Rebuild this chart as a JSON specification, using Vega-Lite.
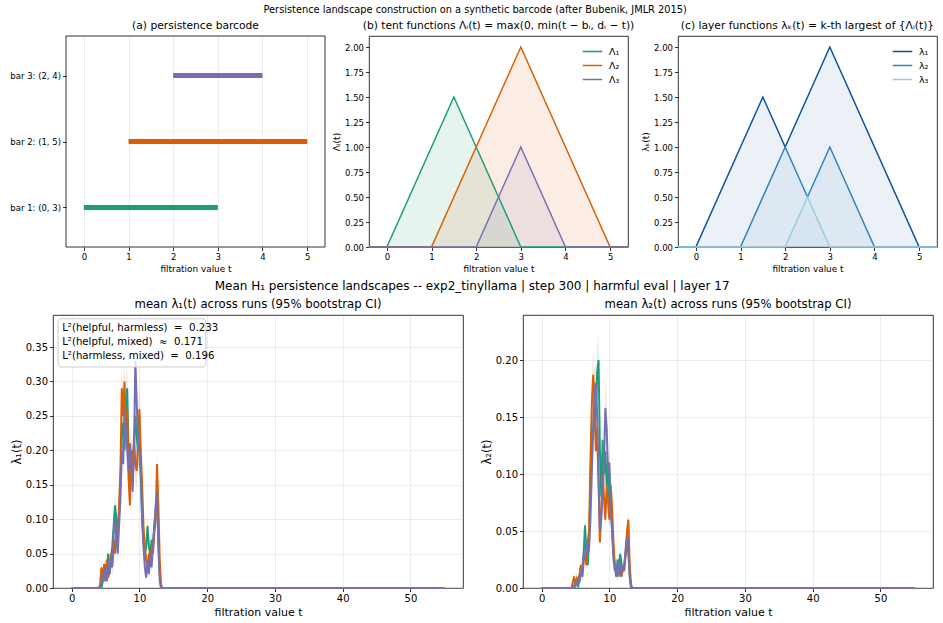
{
  "$schema": "https://vega.github.io/schema/vega-lite/v6.json",
  "padding": {"left": 9, "top": 5, "right": 5, "bottom": 5},
  "title": {"text": "Persistence landscape construction on a synthetic barcode (after Bubenik, JMLR 2015)", "fontSize": 9.8, "offset": 5, "anchor": "middle"},
  "datasets": {
    "barcode": [
      {"bar": "bar 1: (0, 3)", "pos": 1, "b": 0, "d": 3},
      {"bar": "bar 2: (1, 5)", "pos": 2, "b": 1, "d": 5},
      {"bar": "bar 3: (2, 4)", "pos": 3, "b": 2, "d": 4}
    ],
    "frameA": [{"b": -0.4, "d": 5.4, "pos": 0.4, "pos2": 3.6}],
    "tents": [
      {"f": "Λ₁", "t": -0.4, "v": 0}, {"f": "Λ₁", "t": 0, "v": 0}, {"f": "Λ₁", "t": 1.5, "v": 1.5}, {"f": "Λ₁", "t": 3, "v": 0}, {"f": "Λ₁", "t": 5.4, "v": 0},
      {"f": "Λ₂", "t": -0.4, "v": 0}, {"f": "Λ₂", "t": 1, "v": 0}, {"f": "Λ₂", "t": 3, "v": 2}, {"f": "Λ₂", "t": 5, "v": 0}, {"f": "Λ₂", "t": 5.4, "v": 0},
      {"f": "Λ₃", "t": -0.4, "v": 0}, {"f": "Λ₃", "t": 2, "v": 0}, {"f": "Λ₃", "t": 3, "v": 1}, {"f": "Λ₃", "t": 4, "v": 0}, {"f": "Λ₃", "t": 5.4, "v": 0}
    ],
    "layers": [
      {"k": "λ₁", "t": -0.4, "v": 0}, {"k": "λ₁", "t": 0, "v": 0}, {"k": "λ₁", "t": 1.5, "v": 1.5}, {"k": "λ₁", "t": 2, "v": 1}, {"k": "λ₁", "t": 3, "v": 2}, {"k": "λ₁", "t": 5, "v": 0}, {"k": "λ₁", "t": 5.4, "v": 0},
      {"k": "λ₂", "t": -0.4, "v": 0}, {"k": "λ₂", "t": 1, "v": 0}, {"k": "λ₂", "t": 2, "v": 1}, {"k": "λ₂", "t": 2.5, "v": 0.5}, {"k": "λ₂", "t": 3, "v": 1}, {"k": "λ₂", "t": 4, "v": 0}, {"k": "λ₂", "t": 5.4, "v": 0},
      {"k": "λ₃", "t": -0.4, "v": 0}, {"k": "λ₃", "t": 2, "v": 0}, {"k": "λ₃", "t": 2.5, "v": 0.5}, {"k": "λ₃", "t": 3, "v": 0}, {"k": "λ₃", "t": 5.4, "v": 0}
    ],
    "box1": [{"t": -2.0, "t2": 19.8, "y": 0.321, "y2": 0.391}],
    "notes1": [
      {"t": -1.4, "y": 0.3775, "label": "L²(helpful, harmless) \u00a0=\u00a0 0.233"},
      {"t": -1.4, "y": 0.3572, "label": "L²(helpful, mixed) \u00a0≈\u00a0 0.171"},
      {"t": -1.4, "y": 0.3369, "label": "L²(harmless, mixed) \u00a0=\u00a0 0.196"}
    ],
    "lam1": [
      {"s": "helpful", "t": 0, "y": 0, "lo": 0, "hi": 0},
      {"s": "helpful", "t": 4.4, "y": 0, "lo": 0, "hi": 0},
      {"s": "helpful", "t": 4.6, "y": 0.01, "lo": 0.004, "hi": 0.016},
      {"s": "helpful", "t": 4.8, "y": 0.02, "lo": 0.014, "hi": 0.026},
      {"s": "helpful", "t": 5.0, "y": 0.01, "lo": 0.004, "hi": 0.016},
      {"s": "helpful", "t": 5.2, "y": 0.03, "lo": 0.018, "hi": 0.042},
      {"s": "helpful", "t": 5.4, "y": 0.05, "lo": 0.038, "hi": 0.062},
      {"s": "helpful", "t": 5.6, "y": 0.02, "lo": 0.014, "hi": 0.026},
      {"s": "helpful", "t": 5.8, "y": 0.04, "lo": 0.028, "hi": 0.052},
      {"s": "helpful", "t": 6.0, "y": 0.06, "lo": 0.048, "hi": 0.072},
      {"s": "helpful", "t": 6.2, "y": 0.09, "lo": 0.072, "hi": 0.108},
      {"s": "helpful", "t": 6.4, "y": 0.12, "lo": 0.102, "hi": 0.138},
      {"s": "helpful", "t": 6.6, "y": 0.10, "lo": 0.082, "hi": 0.118},
      {"s": "helpful", "t": 6.8, "y": 0.08, "lo": 0.062, "hi": 0.098},
      {"s": "helpful", "t": 7.0, "y": 0.11, "lo": 0.092, "hi": 0.128},
      {"s": "helpful", "t": 7.2, "y": 0.15, "lo": 0.125, "hi": 0.175},
      {"s": "helpful", "t": 7.4, "y": 0.22, "lo": 0.185, "hi": 0.255},
      {"s": "helpful", "t": 7.6, "y": 0.24, "lo": 0.205, "hi": 0.275},
      {"s": "helpful", "t": 7.8, "y": 0.20, "lo": 0.175, "hi": 0.225},
      {"s": "helpful", "t": 8.0, "y": 0.27, "lo": 0.235, "hi": 0.305},
      {"s": "helpful", "t": 8.2, "y": 0.29, "lo": 0.255, "hi": 0.325},
      {"s": "helpful", "t": 8.4, "y": 0.20, "lo": 0.175, "hi": 0.225},
      {"s": "helpful", "t": 8.6, "y": 0.16, "lo": 0.135, "hi": 0.185},
      {"s": "helpful", "t": 8.8, "y": 0.19, "lo": 0.165, "hi": 0.215},
      {"s": "helpful", "t": 9.0, "y": 0.15, "lo": 0.125, "hi": 0.175},
      {"s": "helpful", "t": 9.2, "y": 0.21, "lo": 0.175, "hi": 0.245},
      {"s": "helpful", "t": 9.4, "y": 0.25, "lo": 0.215, "hi": 0.285},
      {"s": "helpful", "t": 9.6, "y": 0.22, "lo": 0.185, "hi": 0.255},
      {"s": "helpful", "t": 9.8, "y": 0.20, "lo": 0.175, "hi": 0.225},
      {"s": "helpful", "t": 10.0, "y": 0.21, "lo": 0.175, "hi": 0.245},
      {"s": "helpful", "t": 10.2, "y": 0.16, "lo": 0.135, "hi": 0.185},
      {"s": "helpful", "t": 10.4, "y": 0.10, "lo": 0.082, "hi": 0.118},
      {"s": "helpful", "t": 10.6, "y": 0.07, "lo": 0.052, "hi": 0.088},
      {"s": "helpful", "t": 10.8, "y": 0.05, "lo": 0.038, "hi": 0.062},
      {"s": "helpful", "t": 11.0, "y": 0.06, "lo": 0.048, "hi": 0.072},
      {"s": "helpful", "t": 11.2, "y": 0.09, "lo": 0.072, "hi": 0.108},
      {"s": "helpful", "t": 11.4, "y": 0.06, "lo": 0.048, "hi": 0.072},
      {"s": "helpful", "t": 11.6, "y": 0.05, "lo": 0.038, "hi": 0.062},
      {"s": "helpful", "t": 11.8, "y": 0.07, "lo": 0.052, "hi": 0.088},
      {"s": "helpful", "t": 12.0, "y": 0.06, "lo": 0.048, "hi": 0.072},
      {"s": "helpful", "t": 12.2, "y": 0.09, "lo": 0.072, "hi": 0.108},
      {"s": "helpful", "t": 12.4, "y": 0.11, "lo": 0.092, "hi": 0.128},
      {"s": "helpful", "t": 12.6, "y": 0.13, "lo": 0.105, "hi": 0.155},
      {"s": "helpful", "t": 12.8, "y": 0.07, "lo": 0.052, "hi": 0.088},
      {"s": "helpful", "t": 13.0, "y": 0.02, "lo": 0.014, "hi": 0.026},
      {"s": "helpful", "t": 13.2, "y": 0, "lo": 0, "hi": 0},
      {"s": "helpful", "t": 55, "y": 0, "lo": 0, "hi": 0},

      {"s": "harmless", "t": 0, "y": 0, "lo": 0, "hi": 0},
      {"s": "harmless", "t": 4.0, "y": 0, "lo": 0, "hi": 0},
      {"s": "harmless", "t": 4.2, "y": 0.005, "lo": 0, "hi": 0.011},
      {"s": "harmless", "t": 4.4, "y": 0.03, "lo": 0.018, "hi": 0.042},
      {"s": "harmless", "t": 4.6, "y": 0.01, "lo": 0.004, "hi": 0.016},
      {"s": "harmless", "t": 4.8, "y": 0.035, "lo": 0.023, "hi": 0.047},
      {"s": "harmless", "t": 5.0, "y": 0.02, "lo": 0.014, "hi": 0.026},
      {"s": "harmless", "t": 5.2, "y": 0.04, "lo": 0.028, "hi": 0.052},
      {"s": "harmless", "t": 5.4, "y": 0.015, "lo": 0.009, "hi": 0.021},
      {"s": "harmless", "t": 5.6, "y": 0.03, "lo": 0.018, "hi": 0.042},
      {"s": "harmless", "t": 5.8, "y": 0.05, "lo": 0.038, "hi": 0.062},
      {"s": "harmless", "t": 6.0, "y": 0.035, "lo": 0.023, "hi": 0.047},
      {"s": "harmless", "t": 6.2, "y": 0.07, "lo": 0.052, "hi": 0.088},
      {"s": "harmless", "t": 6.4, "y": 0.05, "lo": 0.038, "hi": 0.062},
      {"s": "harmless", "t": 6.6, "y": 0.09, "lo": 0.072, "hi": 0.108},
      {"s": "harmless", "t": 6.8, "y": 0.07, "lo": 0.052, "hi": 0.088},
      {"s": "harmless", "t": 7.0, "y": 0.12, "lo": 0.102, "hi": 0.138},
      {"s": "harmless", "t": 7.2, "y": 0.17, "lo": 0.145, "hi": 0.195},
      {"s": "harmless", "t": 7.4, "y": 0.29, "lo": 0.255, "hi": 0.325},
      {"s": "harmless", "t": 7.6, "y": 0.25, "lo": 0.215, "hi": 0.285},
      {"s": "harmless", "t": 7.8, "y": 0.30, "lo": 0.265, "hi": 0.335},
      {"s": "harmless", "t": 8.0, "y": 0.22, "lo": 0.185, "hi": 0.255},
      {"s": "harmless", "t": 8.2, "y": 0.26, "lo": 0.225, "hi": 0.295},
      {"s": "harmless", "t": 8.4, "y": 0.16, "lo": 0.135, "hi": 0.185},
      {"s": "harmless", "t": 8.6, "y": 0.12, "lo": 0.102, "hi": 0.138},
      {"s": "harmless", "t": 8.8, "y": 0.20, "lo": 0.175, "hi": 0.225},
      {"s": "harmless", "t": 9.0, "y": 0.17, "lo": 0.145, "hi": 0.195},
      {"s": "harmless", "t": 9.2, "y": 0.22, "lo": 0.185, "hi": 0.255},
      {"s": "harmless", "t": 9.4, "y": 0.18, "lo": 0.155, "hi": 0.205},
      {"s": "harmless", "t": 9.6, "y": 0.17, "lo": 0.145, "hi": 0.195},
      {"s": "harmless", "t": 9.8, "y": 0.21, "lo": 0.175, "hi": 0.245},
      {"s": "harmless", "t": 10.0, "y": 0.26, "lo": 0.225, "hi": 0.295},
      {"s": "harmless", "t": 10.2, "y": 0.20, "lo": 0.175, "hi": 0.225},
      {"s": "harmless", "t": 10.4, "y": 0.15, "lo": 0.125, "hi": 0.175},
      {"s": "harmless", "t": 10.6, "y": 0.09, "lo": 0.072, "hi": 0.108},
      {"s": "harmless", "t": 10.8, "y": 0.06, "lo": 0.048, "hi": 0.072},
      {"s": "harmless", "t": 11.0, "y": 0.04, "lo": 0.028, "hi": 0.052},
      {"s": "harmless", "t": 11.2, "y": 0.03, "lo": 0.018, "hi": 0.042},
      {"s": "harmless", "t": 11.4, "y": 0.05, "lo": 0.038, "hi": 0.062},
      {"s": "harmless", "t": 11.6, "y": 0.04, "lo": 0.028, "hi": 0.052},
      {"s": "harmless", "t": 11.8, "y": 0.06, "lo": 0.048, "hi": 0.072},
      {"s": "harmless", "t": 12.0, "y": 0.05, "lo": 0.038, "hi": 0.062},
      {"s": "harmless", "t": 12.2, "y": 0.08, "lo": 0.062, "hi": 0.098},
      {"s": "harmless", "t": 12.4, "y": 0.10, "lo": 0.082, "hi": 0.118},
      {"s": "harmless", "t": 12.6, "y": 0.18, "lo": 0.155, "hi": 0.205},
      {"s": "harmless", "t": 12.8, "y": 0.12, "lo": 0.102, "hi": 0.138},
      {"s": "harmless", "t": 13.0, "y": 0.04, "lo": 0.028, "hi": 0.052},
      {"s": "harmless", "t": 13.2, "y": 0.005, "lo": 0, "hi": 0.011},
      {"s": "harmless", "t": 13.4, "y": 0, "lo": 0, "hi": 0},
      {"s": "harmless", "t": 55, "y": 0, "lo": 0, "hi": 0},

      {"s": "mixed", "t": 0, "y": 0, "lo": 0, "hi": 0},
      {"s": "mixed", "t": 4.2, "y": 0, "lo": 0, "hi": 0},
      {"s": "mixed", "t": 4.4, "y": 0.01, "lo": 0.004, "hi": 0.016},
      {"s": "mixed", "t": 4.6, "y": 0.02, "lo": 0.014, "hi": 0.026},
      {"s": "mixed", "t": 4.8, "y": 0.01, "lo": 0.004, "hi": 0.016},
      {"s": "mixed", "t": 5.0, "y": 0.03, "lo": 0.018, "hi": 0.042},
      {"s": "mixed", "t": 5.2, "y": 0.01, "lo": 0.004, "hi": 0.016},
      {"s": "mixed", "t": 5.4, "y": 0.04, "lo": 0.028, "hi": 0.052},
      {"s": "mixed", "t": 5.6, "y": 0.02, "lo": 0.014, "hi": 0.026},
      {"s": "mixed", "t": 5.8, "y": 0.045, "lo": 0.033, "hi": 0.057},
      {"s": "mixed", "t": 6.0, "y": 0.03, "lo": 0.018, "hi": 0.042},
      {"s": "mixed", "t": 6.2, "y": 0.08, "lo": 0.062, "hi": 0.098},
      {"s": "mixed", "t": 6.4, "y": 0.10, "lo": 0.082, "hi": 0.118},
      {"s": "mixed", "t": 6.6, "y": 0.07, "lo": 0.052, "hi": 0.088},
      {"s": "mixed", "t": 6.8, "y": 0.05, "lo": 0.038, "hi": 0.062},
      {"s": "mixed", "t": 7.0, "y": 0.09, "lo": 0.072, "hi": 0.108},
      {"s": "mixed", "t": 7.2, "y": 0.13, "lo": 0.105, "hi": 0.155},
      {"s": "mixed", "t": 7.4, "y": 0.20, "lo": 0.175, "hi": 0.225},
      {"s": "mixed", "t": 7.6, "y": 0.18, "lo": 0.155, "hi": 0.205},
      {"s": "mixed", "t": 7.8, "y": 0.26, "lo": 0.225, "hi": 0.295},
      {"s": "mixed", "t": 8.0, "y": 0.23, "lo": 0.195, "hi": 0.265},
      {"s": "mixed", "t": 8.2, "y": 0.20, "lo": 0.175, "hi": 0.225},
      {"s": "mixed", "t": 8.4, "y": 0.17, "lo": 0.145, "hi": 0.195},
      {"s": "mixed", "t": 8.6, "y": 0.21, "lo": 0.175, "hi": 0.245},
      {"s": "mixed", "t": 8.8, "y": 0.18, "lo": 0.155, "hi": 0.205},
      {"s": "mixed", "t": 9.0, "y": 0.14, "lo": 0.115, "hi": 0.165},
      {"s": "mixed", "t": 9.2, "y": 0.20, "lo": 0.175, "hi": 0.225},
      {"s": "mixed", "t": 9.4, "y": 0.33, "lo": 0.295, "hi": 0.37},
      {"s": "mixed", "t": 9.6, "y": 0.27, "lo": 0.235, "hi": 0.305},
      {"s": "mixed", "t": 9.8, "y": 0.22, "lo": 0.185, "hi": 0.255},
      {"s": "mixed", "t": 10.0, "y": 0.20, "lo": 0.175, "hi": 0.225},
      {"s": "mixed", "t": 10.2, "y": 0.18, "lo": 0.155, "hi": 0.205},
      {"s": "mixed", "t": 10.4, "y": 0.10, "lo": 0.082, "hi": 0.118},
      {"s": "mixed", "t": 10.6, "y": 0.06, "lo": 0.048, "hi": 0.072},
      {"s": "mixed", "t": 10.8, "y": 0.03, "lo": 0.018, "hi": 0.042},
      {"s": "mixed", "t": 11.0, "y": 0.015, "lo": 0.009, "hi": 0.021},
      {"s": "mixed", "t": 11.2, "y": 0.04, "lo": 0.028, "hi": 0.052},
      {"s": "mixed", "t": 11.4, "y": 0.02, "lo": 0.014, "hi": 0.026},
      {"s": "mixed", "t": 11.6, "y": 0.05, "lo": 0.038, "hi": 0.062},
      {"s": "mixed", "t": 11.8, "y": 0.03, "lo": 0.018, "hi": 0.042},
      {"s": "mixed", "t": 12.0, "y": 0.06, "lo": 0.048, "hi": 0.072},
      {"s": "mixed", "t": 12.2, "y": 0.09, "lo": 0.072, "hi": 0.108},
      {"s": "mixed", "t": 12.4, "y": 0.12, "lo": 0.102, "hi": 0.138},
      {"s": "mixed", "t": 12.6, "y": 0.14, "lo": 0.115, "hi": 0.165},
      {"s": "mixed", "t": 12.8, "y": 0.06, "lo": 0.048, "hi": 0.072},
      {"s": "mixed", "t": 13.0, "y": 0.01, "lo": 0.004, "hi": 0.016},
      {"s": "mixed", "t": 13.2, "y": 0, "lo": 0, "hi": 0},
      {"s": "mixed", "t": 55, "y": 0, "lo": 0, "hi": 0}
    ],
    "lam2": [
      {"s": "helpful", "t": 0, "y": 0, "lo": 0, "hi": 0},
      {"s": "helpful", "t": 4.8, "y": 0, "lo": 0, "hi": 0},
      {"s": "helpful", "t": 5.0, "y": 0.003, "lo": 0, "hi": 0.007},
      {"s": "helpful", "t": 5.2, "y": 0.005, "lo": 0.001, "hi": 0.009},
      {"s": "helpful", "t": 5.4, "y": 0.002, "lo": 0, "hi": 0.006},
      {"s": "helpful", "t": 5.6, "y": 0.01, "lo": 0.006, "hi": 0.014},
      {"s": "helpful", "t": 5.8, "y": 0.02, "lo": 0.016, "hi": 0.024},
      {"s": "helpful", "t": 6.0, "y": 0.015, "lo": 0.011, "hi": 0.019},
      {"s": "helpful", "t": 6.2, "y": 0.03, "lo": 0.022, "hi": 0.038},
      {"s": "helpful", "t": 6.4, "y": 0.055, "lo": 0.047, "hi": 0.063},
      {"s": "helpful", "t": 6.6, "y": 0.03, "lo": 0.022, "hi": 0.038},
      {"s": "helpful", "t": 6.8, "y": 0.02, "lo": 0.016, "hi": 0.024},
      {"s": "helpful", "t": 7.0, "y": 0.04, "lo": 0.032, "hi": 0.048},
      {"s": "helpful", "t": 7.2, "y": 0.09, "lo": 0.076, "hi": 0.104},
      {"s": "helpful", "t": 7.4, "y": 0.14, "lo": 0.12, "hi": 0.16},
      {"s": "helpful", "t": 7.6, "y": 0.13, "lo": 0.11, "hi": 0.15},
      {"s": "helpful", "t": 7.8, "y": 0.16, "lo": 0.14, "hi": 0.18},
      {"s": "helpful", "t": 8.0, "y": 0.15, "lo": 0.13, "hi": 0.17},
      {"s": "helpful", "t": 8.2, "y": 0.19, "lo": 0.17, "hi": 0.21},
      {"s": "helpful", "t": 8.4, "y": 0.20, "lo": 0.18, "hi": 0.225},
      {"s": "helpful", "t": 8.6, "y": 0.12, "lo": 0.106, "hi": 0.134},
      {"s": "helpful", "t": 8.8, "y": 0.08, "lo": 0.066, "hi": 0.094},
      {"s": "helpful", "t": 9.0, "y": 0.13, "lo": 0.11, "hi": 0.15},
      {"s": "helpful", "t": 9.2, "y": 0.10, "lo": 0.086, "hi": 0.114},
      {"s": "helpful", "t": 9.4, "y": 0.12, "lo": 0.106, "hi": 0.134},
      {"s": "helpful", "t": 9.6, "y": 0.09, "lo": 0.076, "hi": 0.104},
      {"s": "helpful", "t": 9.8, "y": 0.11, "lo": 0.096, "hi": 0.124},
      {"s": "helpful", "t": 10.0, "y": 0.07, "lo": 0.056, "hi": 0.084},
      {"s": "helpful", "t": 10.2, "y": 0.08, "lo": 0.066, "hi": 0.094},
      {"s": "helpful", "t": 10.4, "y": 0.05, "lo": 0.042, "hi": 0.058},
      {"s": "helpful", "t": 10.6, "y": 0.03, "lo": 0.022, "hi": 0.038},
      {"s": "helpful", "t": 10.8, "y": 0.02, "lo": 0.016, "hi": 0.024},
      {"s": "helpful", "t": 11.0, "y": 0.01, "lo": 0.006, "hi": 0.014},
      {"s": "helpful", "t": 11.2, "y": 0.025, "lo": 0.017, "hi": 0.033},
      {"s": "helpful", "t": 11.4, "y": 0.015, "lo": 0.011, "hi": 0.019},
      {"s": "helpful", "t": 11.6, "y": 0.03, "lo": 0.022, "hi": 0.038},
      {"s": "helpful", "t": 11.8, "y": 0.02, "lo": 0.016, "hi": 0.024},
      {"s": "helpful", "t": 12.0, "y": 0.015, "lo": 0.011, "hi": 0.019},
      {"s": "helpful", "t": 12.2, "y": 0.02, "lo": 0.016, "hi": 0.024},
      {"s": "helpful", "t": 12.4, "y": 0.03, "lo": 0.022, "hi": 0.038},
      {"s": "helpful", "t": 12.6, "y": 0.04, "lo": 0.032, "hi": 0.048},
      {"s": "helpful", "t": 12.8, "y": 0.03, "lo": 0.022, "hi": 0.038},
      {"s": "helpful", "t": 13.0, "y": 0.01, "lo": 0.006, "hi": 0.014},
      {"s": "helpful", "t": 13.2, "y": 0, "lo": 0, "hi": 0},
      {"s": "helpful", "t": 55, "y": 0, "lo": 0, "hi": 0},

      {"s": "harmless", "t": 0, "y": 0, "lo": 0, "hi": 0},
      {"s": "harmless", "t": 4.4, "y": 0, "lo": 0, "hi": 0},
      {"s": "harmless", "t": 4.6, "y": 0.005, "lo": 0.001, "hi": 0.009},
      {"s": "harmless", "t": 4.8, "y": 0.01, "lo": 0.006, "hi": 0.014},
      {"s": "harmless", "t": 5.0, "y": 0.003, "lo": 0, "hi": 0.007},
      {"s": "harmless", "t": 5.2, "y": 0.008, "lo": 0.004, "hi": 0.012},
      {"s": "harmless", "t": 5.4, "y": 0.004, "lo": 0, "hi": 0.008},
      {"s": "harmless", "t": 5.6, "y": 0.012, "lo": 0.008, "hi": 0.016},
      {"s": "harmless", "t": 5.8, "y": 0.02, "lo": 0.016, "hi": 0.024},
      {"s": "harmless", "t": 6.0, "y": 0.01, "lo": 0.006, "hi": 0.014},
      {"s": "harmless", "t": 6.2, "y": 0.025, "lo": 0.017, "hi": 0.033},
      {"s": "harmless", "t": 6.4, "y": 0.03, "lo": 0.022, "hi": 0.038},
      {"s": "harmless", "t": 6.6, "y": 0.02, "lo": 0.016, "hi": 0.024},
      {"s": "harmless", "t": 6.8, "y": 0.04, "lo": 0.032, "hi": 0.048},
      {"s": "harmless", "t": 7.0, "y": 0.05, "lo": 0.042, "hi": 0.058},
      {"s": "harmless", "t": 7.2, "y": 0.11, "lo": 0.096, "hi": 0.124},
      {"s": "harmless", "t": 7.4, "y": 0.16, "lo": 0.14, "hi": 0.18},
      {"s": "harmless", "t": 7.6, "y": 0.187, "lo": 0.167, "hi": 0.21},
      {"s": "harmless", "t": 7.8, "y": 0.17, "lo": 0.15, "hi": 0.19},
      {"s": "harmless", "t": 8.0, "y": 0.12, "lo": 0.106, "hi": 0.134},
      {"s": "harmless", "t": 8.2, "y": 0.14, "lo": 0.12, "hi": 0.16},
      {"s": "harmless", "t": 8.4, "y": 0.09, "lo": 0.076, "hi": 0.104},
      {"s": "harmless", "t": 8.6, "y": 0.04, "lo": 0.032, "hi": 0.048},
      {"s": "harmless", "t": 8.8, "y": 0.07, "lo": 0.056, "hi": 0.084},
      {"s": "harmless", "t": 9.0, "y": 0.10, "lo": 0.086, "hi": 0.114},
      {"s": "harmless", "t": 9.2, "y": 0.08, "lo": 0.066, "hi": 0.094},
      {"s": "harmless", "t": 9.4, "y": 0.06, "lo": 0.052, "hi": 0.068},
      {"s": "harmless", "t": 9.6, "y": 0.09, "lo": 0.076, "hi": 0.104},
      {"s": "harmless", "t": 9.8, "y": 0.075, "lo": 0.061, "hi": 0.089},
      {"s": "harmless", "t": 10.0, "y": 0.06, "lo": 0.052, "hi": 0.068},
      {"s": "harmless", "t": 10.2, "y": 0.09, "lo": 0.076, "hi": 0.104},
      {"s": "harmless", "t": 10.4, "y": 0.07, "lo": 0.056, "hi": 0.084},
      {"s": "harmless", "t": 10.6, "y": 0.04, "lo": 0.032, "hi": 0.048},
      {"s": "harmless", "t": 10.8, "y": 0.02, "lo": 0.016, "hi": 0.024},
      {"s": "harmless", "t": 11.0, "y": 0.015, "lo": 0.011, "hi": 0.019},
      {"s": "harmless", "t": 11.2, "y": 0.01, "lo": 0.006, "hi": 0.014},
      {"s": "harmless", "t": 11.4, "y": 0.02, "lo": 0.016, "hi": 0.024},
      {"s": "harmless", "t": 11.6, "y": 0.015, "lo": 0.011, "hi": 0.019},
      {"s": "harmless", "t": 11.8, "y": 0.01, "lo": 0.006, "hi": 0.014},
      {"s": "harmless", "t": 12.0, "y": 0.02, "lo": 0.016, "hi": 0.024},
      {"s": "harmless", "t": 12.2, "y": 0.015, "lo": 0.011, "hi": 0.019},
      {"s": "harmless", "t": 12.4, "y": 0.03, "lo": 0.022, "hi": 0.038},
      {"s": "harmless", "t": 12.6, "y": 0.05, "lo": 0.042, "hi": 0.058},
      {"s": "harmless", "t": 12.8, "y": 0.06, "lo": 0.052, "hi": 0.068},
      {"s": "harmless", "t": 13.0, "y": 0.02, "lo": 0.016, "hi": 0.024},
      {"s": "harmless", "t": 13.2, "y": 0.003, "lo": 0, "hi": 0.007},
      {"s": "harmless", "t": 13.4, "y": 0, "lo": 0, "hi": 0},
      {"s": "harmless", "t": 55, "y": 0, "lo": 0, "hi": 0},

      {"s": "mixed", "t": 0, "y": 0, "lo": 0, "hi": 0},
      {"s": "mixed", "t": 4.6, "y": 0, "lo": 0, "hi": 0},
      {"s": "mixed", "t": 4.8, "y": 0.002, "lo": 0, "hi": 0.006},
      {"s": "mixed", "t": 5.0, "y": 0.005, "lo": 0.001, "hi": 0.009},
      {"s": "mixed", "t": 5.2, "y": 0.003, "lo": 0, "hi": 0.007},
      {"s": "mixed", "t": 5.4, "y": 0.008, "lo": 0.004, "hi": 0.012},
      {"s": "mixed", "t": 5.6, "y": 0.005, "lo": 0.001, "hi": 0.009},
      {"s": "mixed", "t": 5.8, "y": 0.015, "lo": 0.011, "hi": 0.019},
      {"s": "mixed", "t": 6.0, "y": 0.01, "lo": 0.006, "hi": 0.014},
      {"s": "mixed", "t": 6.2, "y": 0.03, "lo": 0.022, "hi": 0.038},
      {"s": "mixed", "t": 6.4, "y": 0.025, "lo": 0.017, "hi": 0.033},
      {"s": "mixed", "t": 6.6, "y": 0.04, "lo": 0.032, "hi": 0.048},
      {"s": "mixed", "t": 6.8, "y": 0.03, "lo": 0.022, "hi": 0.038},
      {"s": "mixed", "t": 7.0, "y": 0.035, "lo": 0.027, "hi": 0.043},
      {"s": "mixed", "t": 7.2, "y": 0.06, "lo": 0.052, "hi": 0.068},
      {"s": "mixed", "t": 7.4, "y": 0.10, "lo": 0.086, "hi": 0.114},
      {"s": "mixed", "t": 7.6, "y": 0.14, "lo": 0.12, "hi": 0.16},
      {"s": "mixed", "t": 7.8, "y": 0.17, "lo": 0.15, "hi": 0.19},
      {"s": "mixed", "t": 8.0, "y": 0.18, "lo": 0.16, "hi": 0.20},
      {"s": "mixed", "t": 8.2, "y": 0.15, "lo": 0.13, "hi": 0.17},
      {"s": "mixed", "t": 8.4, "y": 0.10, "lo": 0.086, "hi": 0.114},
      {"s": "mixed", "t": 8.6, "y": 0.05, "lo": 0.042, "hi": 0.058},
      {"s": "mixed", "t": 8.8, "y": 0.06, "lo": 0.052, "hi": 0.068},
      {"s": "mixed", "t": 9.0, "y": 0.08, "lo": 0.066, "hi": 0.094},
      {"s": "mixed", "t": 9.2, "y": 0.11, "lo": 0.096, "hi": 0.124},
      {"s": "mixed", "t": 9.4, "y": 0.158, "lo": 0.138, "hi": 0.19},
      {"s": "mixed", "t": 9.6, "y": 0.14, "lo": 0.12, "hi": 0.16},
      {"s": "mixed", "t": 9.8, "y": 0.10, "lo": 0.086, "hi": 0.114},
      {"s": "mixed", "t": 10.0, "y": 0.11, "lo": 0.096, "hi": 0.124},
      {"s": "mixed", "t": 10.2, "y": 0.07, "lo": 0.056, "hi": 0.084},
      {"s": "mixed", "t": 10.4, "y": 0.05, "lo": 0.042, "hi": 0.058},
      {"s": "mixed", "t": 10.6, "y": 0.025, "lo": 0.017, "hi": 0.033},
      {"s": "mixed", "t": 10.8, "y": 0.015, "lo": 0.011, "hi": 0.019},
      {"s": "mixed", "t": 11.0, "y": 0.02, "lo": 0.016, "hi": 0.024},
      {"s": "mixed", "t": 11.2, "y": 0.01, "lo": 0.006, "hi": 0.014},
      {"s": "mixed", "t": 11.4, "y": 0.025, "lo": 0.017, "hi": 0.033},
      {"s": "mixed", "t": 11.6, "y": 0.01, "lo": 0.006, "hi": 0.014},
      {"s": "mixed", "t": 11.8, "y": 0.02, "lo": 0.016, "hi": 0.024},
      {"s": "mixed", "t": 12.0, "y": 0.015, "lo": 0.011, "hi": 0.019},
      {"s": "mixed", "t": 12.2, "y": 0.02, "lo": 0.016, "hi": 0.024},
      {"s": "mixed", "t": 12.4, "y": 0.035, "lo": 0.027, "hi": 0.043},
      {"s": "mixed", "t": 12.6, "y": 0.045, "lo": 0.037, "hi": 0.053},
      {"s": "mixed", "t": 12.8, "y": 0.04, "lo": 0.032, "hi": 0.048},
      {"s": "mixed", "t": 13.0, "y": 0.01, "lo": 0.006, "hi": 0.014},
      {"s": "mixed", "t": 13.2, "y": 0, "lo": 0, "hi": 0},
      {"s": "mixed", "t": 55, "y": 0, "lo": 0, "hi": 0}
    ]
  },
  "vconcat": [
    {
      "hconcat": [
        {
          "width": 272, "height": 211,
          "view": {"stroke": null},
          "title": {"text": "(a) persistence barcode", "fontSize": 10.7, "offset": 4, "dx": 6.5},
          "encoding": {
            "x": {"field": "b", "type": "quantitative", "scale": {"domain": [-0.691, 5.4], "nice": false, "zero": false},
                  "axis": {"values": [0, 1, 2, 3, 4, 5], "format": "d", "title": "filtration value t", "titleX": 142.5, "grid": true, "labelFontSize": 8.5, "titleFontSize": 8.9}},
            "y": {"field": "pos", "type": "quantitative", "scale": {"domain": [0.4, 3.6], "nice": false, "zero": false},
                  "axis": {"values": [1, 2, 3], "offset": -13, "title": null, "grid": false, "labelFontSize": 8.5,
                           "labelExpr": "datum.value == 1 ? 'bar 1: (0, 3)' : datum.value == 2 ? 'bar 2: (1, 5)' : 'bar 3: (2, 4)'"}}
          },
          "layer": [
            {
              "data": {"name": "barcode"},
              "mark": {"type": "rule", "strokeWidth": 5, "strokeCap": "butt"},
              "encoding": {
                "x2": {"field": "d"},
                "color": {"field": "bar", "type": "nominal", "scale": {"range": ["#1b9e77", "#d95f02", "#7570b3"]}, "legend": null}
              }
            },
            {
              "data": {"name": "frameA"},
              "mark": {"type": "rect", "fill": null, "fillOpacity": 0, "stroke": "#000000", "strokeWidth": 0.8},
              "encoding": {"x2": {"field": "d"}, "y2": {"field": "pos2"}}
            }
          ]
        },
        {
          "width": 259, "height": 211,
          "title": {"text": "(b) tent functions Λᵢ(t) = max(0, min(t − bᵢ, dᵢ − t))", "fontSize": 10.7, "offset": 4},
          "data": {"name": "tents"},
          "encoding": {
            "x": {"field": "t", "type": "quantitative", "scale": {"domain": [-0.4, 5.4], "nice": false, "zero": false},
                  "axis": {"values": [0, 1, 2, 3, 4, 5], "format": "d", "title": "filtration value t", "grid": false, "labelFontSize": 8.5, "titleFontSize": 8.9}},
            "y": {"field": "v", "type": "quantitative", "stack": null, "title": "Λᵢ(t)", "scale": {"domain": [0, 2.11], "nice": false},
                  "axis": {"values": [0, 0.25, 0.5, 0.75, 1, 1.25, 1.5, 1.75, 2], "format": ".2f", "grid": false, "labelFontSize": 8.5, "titleFontSize": 9}}
          },
          "layer": [
            {
              "mark": {"type": "area", "opacity": 0.11},
              "encoding": {"fill": {"field": "f", "type": "nominal", "scale": {"range": ["#1b9e77", "#d95f02", "#7570b3"]}, "legend": null}}
            },
            {
              "mark": {"type": "line", "strokeWidth": 1.5},
              "encoding": {"color": {"field": "f", "type": "nominal", "scale": {"range": ["#1b9e77", "#d95f02", "#7570b3"]},
                "legend": {"title": null, "orient": "top-right", "offset": 8, "symbolType": "M-1.5,0L1.5,0", "symbolSize": 169, "symbolStrokeWidth": 1.5, "labelFontSize": 9.5, "labelOffset": 9, "rowPadding": 2}}}
            }
          ]
        },
        {
          "width": 259, "height": 211,
          "title": {"text": "(c) layer functions λₖ(t) = k-th largest of {Λᵢ(t)}", "fontSize": 10.7, "offset": 4},
          "data": {"name": "layers"},
          "encoding": {
            "x": {"field": "t", "type": "quantitative", "scale": {"domain": [-0.4, 5.4], "nice": false, "zero": false},
                  "axis": {"values": [0, 1, 2, 3, 4, 5], "format": "d", "title": "filtration value t", "grid": false, "labelFontSize": 8.5, "titleFontSize": 8.9}},
            "y": {"field": "v", "type": "quantitative", "stack": null, "title": "λₖ(t)", "scale": {"domain": [0, 2.11], "nice": false},
                  "axis": {"values": [0, 0.25, 0.5, 0.75, 1, 1.25, 1.5, 1.75, 2], "format": ".2f", "grid": false, "labelFontSize": 8.5, "titleFontSize": 9}}
          },
          "layer": [
            {
              "mark": {"type": "area", "opacity": 0.08},
              "encoding": {"fill": {"field": "k", "type": "nominal", "scale": {"range": ["#08519c", "#3182bd", "#9ecae1"]}, "legend": null}}
            },
            {
              "mark": {"type": "line", "strokeWidth": 1.5},
              "encoding": {"color": {"field": "k", "type": "nominal", "scale": {"range": ["#08519c", "#3182bd", "#9ecae1"]},
                "legend": {"title": null, "orient": "top-right", "offset": 8, "symbolType": "M-1.5,0L1.5,0", "symbolSize": 169, "symbolStrokeWidth": 1.5, "labelFontSize": 9.5, "labelOffset": 9, "rowPadding": 2}}}
            }
          ]
        }
      ],
      "spacing": 6,
      "resolve": {"scale": {"color": "independent", "fill": "independent"}, "legend": {"color": "independent", "fill": "independent"}}
    },
    {
      "title": {"text": "Mean H₁ persistence landscapes -- exp2_tinyllama | step 300 | harmful eval | layer 17", "fontSize": 12, "offset": 6, "anchor": "middle"},
      "hconcat": [
        {
          "width": 410, "height": 273,
          "title": {"text": "mean λ₁(t) across runs (95% bootstrap CI)", "fontSize": 11.7, "offset": 4},
          "encoding": {
            "x": {"field": "t", "type": "quantitative", "title": "filtration value t", "scale": {"domain": [-2.75, 57.75], "nice": false, "zero": false},
                  "axis": {"values": [0, 10, 20, 30, 40, 50], "format": "d", "grid": true, "labelFontSize": 10, "titleFontSize": 11}},
            "y": {"field": "y", "type": "quantitative", "title": "λ₁(t)", "scale": {"domain": [0, 0.3965], "nice": false},
                  "axis": {"values": [0, 0.05, 0.1, 0.15, 0.2, 0.25, 0.3, 0.35], "format": ".2f", "grid": true, "labelFontSize": 10, "titleFontSize": 11.5}}
          },
          "layer": [
            {
              "data": {"name": "lam1"},
              "mark": {"type": "area", "opacity": 0.16},
              "encoding": {
                "y": {"field": "lo", "type": "quantitative", "title": "λ₁(t)"},
                "y2": {"field": "hi"},
                "fill": {"field": "s", "type": "nominal", "scale": {"domain": ["helpful", "harmless", "mixed"], "range": ["#1b9e77", "#d95f02", "#7570b3"]}, "legend": null}
              }
            },
            {
              "data": {"name": "lam1"},
              "mark": {"type": "line", "strokeWidth": 2},
              "encoding": {
                "color": {"field": "s", "type": "nominal", "scale": {"domain": ["helpful", "harmless", "mixed"], "range": ["#1b9e77", "#d95f02", "#7570b3"]},
                  "legend": {"title": null, "orient": "top-right", "offset": 8, "symbolType": "M-1.6,0L1.6,0", "symbolSize": 196, "symbolStrokeWidth": 2, "labelFontSize": 10.5, "labelOffset": 10, "rowPadding": 1}}
              }
            },
            {
              "data": {"name": "box1"},
              "mark": {"type": "rect", "fill": "#ffffff", "fillOpacity": 0.8, "stroke": "#cccccc", "strokeWidth": 1, "cornerRadius": 3},
              "encoding": {"x2": {"field": "t2"}, "y2": {"field": "y2"}}
            },
            {
              "data": {"name": "notes1"},
              "mark": {"type": "text", "align": "left", "baseline": "middle", "fontSize": 10.2, "color": "#000"},
              "encoding": {"text": {"field": "label"}}
            }
          ]
        },
        {
          "width": 410, "height": 273,
          "title": {"text": "mean λ₂(t) across runs (95% bootstrap CI)", "fontSize": 11.7, "offset": 4},
          "data": {"name": "lam2"},
          "encoding": {
            "x": {"field": "t", "type": "quantitative", "title": "filtration value t", "scale": {"domain": [-2.75, 57.75], "nice": false, "zero": false},
                  "axis": {"values": [0, 10, 20, 30, 40, 50], "format": "d", "grid": true, "labelFontSize": 10, "titleFontSize": 11}},
            "y": {"field": "y", "type": "quantitative", "title": "λ₂(t)", "scale": {"domain": [0, 0.2395], "nice": false},
                  "axis": {"values": [0, 0.05, 0.1, 0.15, 0.2], "format": ".2f", "grid": true, "labelFontSize": 10, "titleFontSize": 11.5}}
          },
          "layer": [
            {
              "mark": {"type": "area", "opacity": 0.16},
              "encoding": {
                "y": {"field": "lo", "type": "quantitative", "title": "λ₂(t)"},
                "y2": {"field": "hi"},
                "fill": {"field": "s", "type": "nominal", "scale": {"domain": ["helpful", "harmless", "mixed"], "range": ["#1b9e77", "#d95f02", "#7570b3"]}, "legend": null}
              }
            },
            {
              "mark": {"type": "line", "strokeWidth": 2},
              "encoding": {
                "color": {"field": "s", "type": "nominal", "scale": {"domain": ["helpful", "harmless", "mixed"], "range": ["#1b9e77", "#d95f02", "#7570b3"]},
                  "legend": {"title": null, "orient": "top-right", "offset": 8, "symbolType": "M-1.6,0L1.6,0", "symbolSize": 196, "symbolStrokeWidth": 2, "labelFontSize": 10.5, "labelOffset": 10, "rowPadding": 1}}
              }
            }
          ]
        }
      ],
      "spacing": 16,
      "resolve": {"scale": {"color": "independent", "fill": "independent"}, "legend": {"color": "independent", "fill": "independent"}}
    }
  ],
  "spacing": 5,
  "resolve": {"scale": {"color": "independent", "fill": "independent"}, "legend": {"color": "independent", "fill": "independent"}},
  "config": {
    "font": "DejaVu Sans",
    "background": "#ffffff",
    "view": {"stroke": "#000000", "strokeWidth": 0.8},
    "axis": {"domain": false, "tickColor": "#000000", "tickSize": 3.5, "tickWidth": 0.8, "labelColor": "#000000", "titleColor": "#000000",
             "titleFontWeight": "normal", "gridColor": "#b0b0b0", "gridOpacity": 0.3, "gridWidth": 0.8, "labelPadding": 2, "titlePadding": 3,
             "labelFont": "DejaVu Sans", "titleFont": "DejaVu Sans"},
    "title": {"fontWeight": "normal", "color": "#000000", "font": "DejaVu Sans"},
    "legend": {"padding": 0, "labelColor": "#000000", "labelFont": "DejaVu Sans"}
  }
}
